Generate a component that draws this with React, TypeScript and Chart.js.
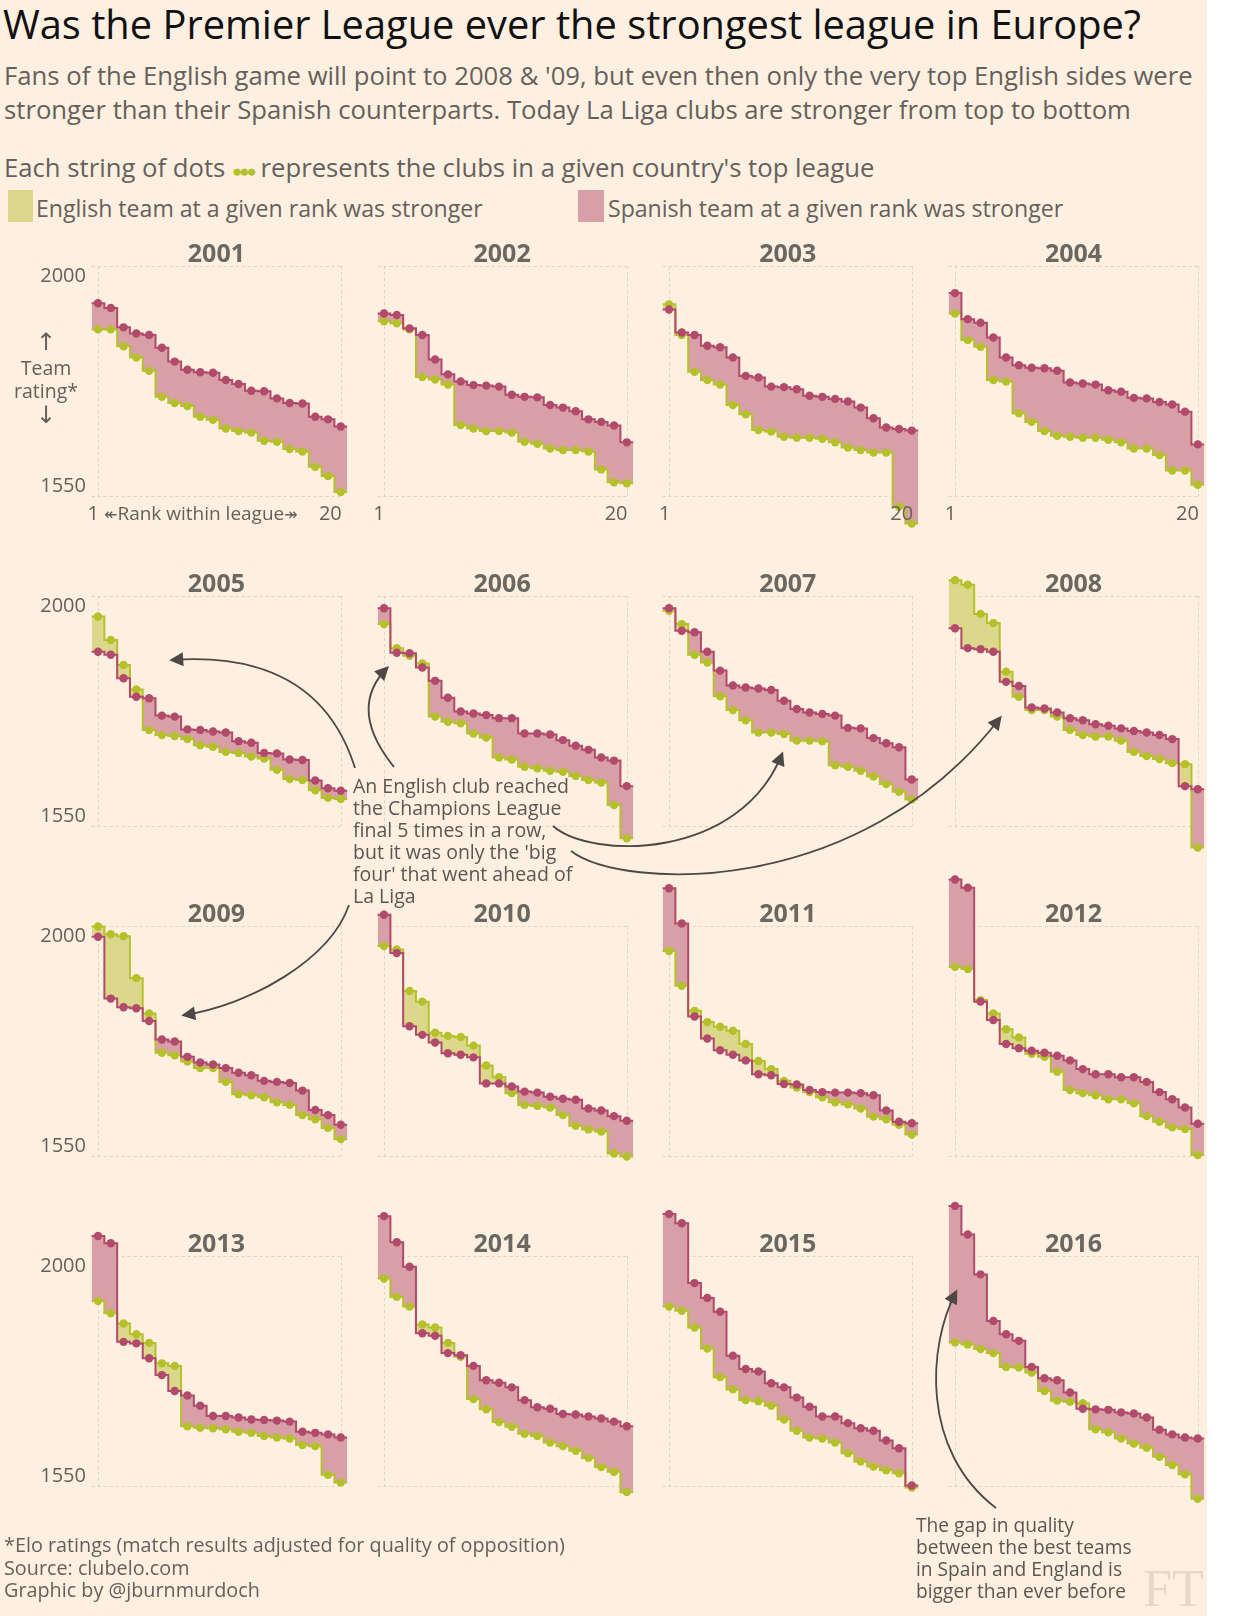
import React, { useEffect, useRef } from 'react';
import { Chart, registerables } from 'chart.js';
Chart.register(...registerables);

// ---------------- DATA (Elo ratings by rank, 1..20) ----------------
const RANKS = [1, 2, 3, 4, 5, 6, 7, 8, 9, 10, 11, 12, 13, 14, 15, 16, 17, 18, 19, 20];
const YEARS = [2001, 2002, 2003, 2004, 2005, 2006, 2007, 2008, 2009, 2010, 2011, 2012, 2013, 2014, 2015, 2016];
const Y_TICKS = [2000, 1550];

const spain2001 = [1927, 1918, 1880, 1868, 1865, 1840, 1813, 1797, 1792, 1791, 1777, 1769, 1756, 1755, 1741, 1732, 1731, 1705, 1700, 1686];
const england2001 = [1876, 1876, 1843, 1821, 1795, 1744, 1732, 1726, 1705, 1699, 1682, 1677, 1674, 1658, 1656, 1642, 1637, 1607, 1589, 1558];
const spain2002 = [1907, 1904, 1878, 1865, 1817, 1788, 1774, 1767, 1766, 1764, 1748, 1744, 1743, 1728, 1723, 1716, 1700, 1695, 1688, 1655];
const england2002 = [1892, 1888, 1876, 1783, 1778, 1768, 1689, 1682, 1677, 1677, 1674, 1656, 1652, 1643, 1640, 1640, 1637, 1602, 1577, 1575];
const spain2003 = [1915, 1870, 1865, 1844, 1841, 1821, 1785, 1782, 1764, 1763, 1759, 1746, 1744, 1740, 1735, 1723, 1702, 1684, 1681, 1678];
const england2003 = [1925, 1865, 1793, 1777, 1768, 1728, 1710, 1679, 1676, 1666, 1664, 1664, 1662, 1655, 1645, 1640, 1635, 1635, 1529, 1496];
const spain2004 = [1947, 1896, 1889, 1860, 1821, 1806, 1801, 1800, 1795, 1772, 1770, 1768, 1757, 1754, 1742, 1741, 1734, 1729, 1715, 1651];
const england2004 = [1907, 1855, 1842, 1777, 1774, 1712, 1695, 1677, 1668, 1666, 1664, 1664, 1660, 1655, 1643, 1643, 1630, 1600, 1600, 1572];
const spain2005 = [1891, 1885, 1839, 1803, 1800, 1766, 1764, 1739, 1738, 1735, 1733, 1716, 1713, 1693, 1692, 1680, 1679, 1639, 1624, 1619];
const england2005 = [1960, 1914, 1865, 1817, 1738, 1728, 1726, 1720, 1708, 1705, 1695, 1693, 1686, 1682, 1660, 1642, 1640, 1620, 1605, 1603];
const spain2006 = [1976, 1889, 1888, 1860, 1834, 1801, 1774, 1770, 1767, 1761, 1761, 1731, 1731, 1729, 1718, 1707, 1699, 1684, 1678, 1628];
const england2006 = [1945, 1898, 1883, 1868, 1764, 1754, 1751, 1731, 1723, 1684, 1680, 1666, 1663, 1658, 1656, 1648, 1640, 1635, 1591, 1526];
const spain2007 = [1976, 1932, 1929, 1891, 1854, 1825, 1821, 1819, 1816, 1795, 1779, 1772, 1769, 1766, 1742, 1741, 1722, 1712, 1704, 1641];
const england2007 = [1971, 1945, 1885, 1870, 1804, 1777, 1757, 1733, 1733, 1730, 1717, 1717, 1716, 1669, 1666, 1658, 1647, 1632, 1617, 1602];
const spain2008 = [1937, 1898, 1896, 1891, 1832, 1824, 1782, 1780, 1772, 1761, 1757, 1749, 1746, 1741, 1736, 1733, 1728, 1720, 1628, 1622];
const england2008 = [2031, 2022, 1965, 1947, 1852, 1803, 1777, 1777, 1764, 1738, 1728, 1725, 1725, 1717, 1695, 1687, 1681, 1673, 1671, 1508];
const spain2009 = [1979, 1858, 1841, 1839, 1814, 1778, 1774, 1744, 1733, 1729, 1722, 1713, 1708, 1697, 1695, 1693, 1678, 1640, 1630, 1611];
const england2009 = [1999, 1984, 1980, 1898, 1829, 1752, 1747, 1735, 1722, 1722, 1695, 1671, 1669, 1665, 1655, 1650, 1630, 1622, 1605, 1583];
const spain2010 = [2022, 1947, 1804, 1787, 1772, 1751, 1748, 1743, 1692, 1692, 1686, 1676, 1674, 1666, 1662, 1660, 1643, 1639, 1628, 1619];
const england2010 = [1961, 1954, 1873, 1852, 1791, 1785, 1783, 1766, 1727, 1704, 1673, 1650, 1648, 1645, 1630, 1609, 1602, 1598, 1555, 1549];
const spain2011 = [2074, 2005, 1823, 1780, 1757, 1748, 1737, 1710, 1708, 1691, 1690, 1679, 1675, 1674, 1674, 1673, 1669, 1639, 1617, 1614];
const england2011 = [1951, 1883, 1834, 1812, 1803, 1795, 1769, 1736, 1720, 1697, 1684, 1675, 1665, 1655, 1651, 1643, 1627, 1622, 1611, 1592];
const spain2012 = [2091, 2075, 1852, 1816, 1769, 1761, 1756, 1752, 1746, 1737, 1720, 1710, 1710, 1704, 1704, 1695, 1675, 1661, 1645, 1613];
const england2012 = [1920, 1916, 1855, 1829, 1798, 1782, 1750, 1744, 1715, 1679, 1673, 1669, 1661, 1661, 1653, 1628, 1617, 1606, 1603, 1552];
const spain2013 = [2039, 2025, 1832, 1829, 1800, 1767, 1736, 1727, 1707, 1687, 1687, 1684, 1680, 1679, 1678, 1676, 1656, 1654, 1651, 1645];
const england2013 = [1912, 1888, 1868, 1847, 1830, 1790, 1785, 1667, 1664, 1663, 1661, 1656, 1654, 1648, 1645, 1643, 1630, 1628, 1572, 1557];
const spain2014 = [2078, 2027, 1979, 1849, 1844, 1810, 1806, 1785, 1757, 1752, 1743, 1718, 1704, 1701, 1691, 1690, 1686, 1682, 1676, 1667];
const england2014 = [1956, 1920, 1901, 1866, 1860, 1830, 1803, 1720, 1700, 1675, 1666, 1652, 1648, 1635, 1628, 1619, 1605, 1587, 1578, 1538];
const spain2015 = [2082, 2064, 1947, 1918, 1891, 1805, 1779, 1774, 1751, 1743, 1723, 1705, 1686, 1686, 1673, 1663, 1658, 1639, 1624, 1551];
const england2015 = [1901, 1893, 1860, 1819, 1763, 1739, 1718, 1716, 1707, 1680, 1658, 1645, 1643, 1635, 1614, 1598, 1588, 1581, 1575, 1547];
const spain2016 = [2098, 2042, 1964, 1873, 1847, 1834, 1783, 1761, 1757, 1733, 1701, 1700, 1699, 1694, 1692, 1684, 1660, 1651, 1645, 1643];
const england2016 = [1831, 1827, 1818, 1810, 1783, 1782, 1772, 1736, 1717, 1715, 1712, 1661, 1655, 1643, 1633, 1625, 1607, 1591, 1573, 1525];

const SPAIN = [spain2001, spain2002, spain2003, spain2004, spain2005, spain2006, spain2007, spain2008,
  spain2009, spain2010, spain2011, spain2012, spain2013, spain2014, spain2015, spain2016];
const ENGLAND = [england2001, england2002, england2003, england2004, england2005, england2006, england2007, england2008,
  england2009, england2010, england2011, england2012, england2013, england2014, england2015, england2016];

// ---------------- STYLE / LAYOUT ----------------
const BG = '#fdf0e1';
const RED = '#b14a6b';
const GREEN = '#b5c12b';
const PINK_FILL = '#d8a0a6';
const GREEN_FILL = '#dcd88b';
const GRID = '#ddd2c6';
const TEXT = '#66605c';
const FONT = '"Open Sans", Roboto, sans-serif';

const COL_X0 = 98;       // pixel of rank 1 in column 0
const COL_STEP = 285.7;
const RANK_SPAN = 242.8; // rank 1 -> rank 20
const ROW_Y0 = 266;      // pixel of 2000 in row 0
const ROW_STEP = 330;
const BOX_H = 230;       // 2000 -> 1550
const PAD_L = 30, CW = 305, PAD_T = 72, CH = 380;

const rankPx = RANK_SPAN / 19;
const eloPx = BOX_H / (Y_TICKS[0] - Y_TICKS[1]);

const boxPlugin = {
  id: 'ratingBox',
  beforeDatasetsDraw(chart: any) {
    const { ctx, scales } = chart;
    const x = scales.x, y = scales.y;
    const xl = x.getPixelForValue(RANKS[0] - 0.5);
    const x1 = x.getPixelForValue(RANKS[0]);
    const x20 = x.getPixelForValue(RANKS[RANKS.length - 1]);
    const yt = y.getPixelForValue(Y_TICKS[0]);
    const yb = y.getPixelForValue(Y_TICKS[1]);
    ctx.save();
    ctx.strokeStyle = GRID;
    ctx.lineWidth = 1;
    ctx.setLineDash([3, 3]);
    ctx.beginPath();
    ctx.moveTo(xl, Math.round(yt) + 0.5); ctx.lineTo(x20, Math.round(yt) + 0.5);
    ctx.moveTo(xl, Math.round(yb) + 0.5); ctx.lineTo(x20, Math.round(yb) + 0.5);
    ctx.moveTo(Math.round(x1) + 0.5, yt); ctx.lineTo(Math.round(x1) + 0.5, yb);
    ctx.moveTo(Math.round(x20) + 0.5, yt); ctx.lineTo(Math.round(x20) + 0.5, yb);
    ctx.stroke();
    ctx.restore();
  },
};

function Panel({ idx }: { idx: number }) {
  const ref = useRef<HTMLCanvasElement>(null);
  const col = idx % 4, row = Math.floor(idx / 4);
  const left = COL_X0 + col * COL_STEP - PAD_L;
  const top = ROW_Y0 + row * ROW_STEP - PAD_T;
  useEffect(() => {
    const sp = SPAIN[idx], en = ENGLAND[idx];
    const xs = [RANKS[0] - 0.5, ...RANKS, RANKS[RANKS.length - 1] + 0.5];
    const ext = (v: number[]) => [v[0], ...v, v[v.length - 1]];
    const spE = ext(sp), enE = ext(en);
    const radii = xs.map((_, i) => (i === 0 || i === xs.length - 1 ? 0 : 4.2));
    const xmin = RANKS[0] - PAD_L / rankPx;
    const xmax = xmin + CW / rankPx;
    const ymax = Y_TICKS[0] + PAD_T / eloPx;
    const ymin = ymax - CH / eloPx;
    const chart = new Chart(ref.current!, {
      type: 'line',
      data: {
        datasets: [
          {
            label: 'Spain',
            data: xs.map((x, i) => ({ x, y: spE[i] })),
            borderColor: RED,
            backgroundColor: RED,
            pointBackgroundColor: RED,
            pointBorderWidth: 0,
            pointRadius: radii,
            borderWidth: 2,
            stepped: 'middle',
            fill: false,
          },
          {
            label: 'England',
            data: xs.map((x, i) => ({ x, y: enE[i] })),
            borderColor: GREEN,
            backgroundColor: GREEN,
            pointBackgroundColor: GREEN,
            pointBorderWidth: 0,
            pointRadius: radii,
            borderWidth: 2,
            stepped: 'middle',
            fill: { target: 0, above: GREEN_FILL, below: PINK_FILL },
          },
        ],
      },
      options: {
        animation: false,
        responsive: false,
        events: [],
        layout: { padding: 0 },
        scales: {
          x: { type: 'linear', min: xmin, max: xmax, display: false },
          y: { type: 'linear', min: ymin, max: ymax, display: false },
        },
        plugins: { legend: { display: false }, tooltip: { enabled: false } },
      } as any,
      plugins: [boxPlugin],
    });
    return () => chart.destroy();
  }, [idx]);
  return (
    <canvas ref={ref} width={CW} height={CH}
      style={{ position: 'absolute', left, top, width: CW, height: CH }} />
  );
}

function T({ x, y, size, children, color = TEXT, weight = 400, align = 'left', family = FONT, width }: any) {
  const lh = Math.round(size * 1.3);
  const style: any = {
    position: 'absolute', top: y - lh / 2, fontSize: size, lineHeight: lh + 'px', color,
    fontWeight: weight, fontFamily: family, whiteSpace: 'nowrap',
  };
  if (align === 'left') style.left = x;
  else if (align === 'right') { style.right = 1259 - x; }
  else { style.left = x - (width || 200) / 2; style.width = width || 200; style.textAlign = 'center'; }
  return <div style={style}>{children}</div>;
}

export default function App() {
  useEffect(() => { document.body.style.margin = '0'; }, []);
  const panels = YEARS.map((_, i) => i);
  const ARROW_FONT = '"DejaVu Sans", sans-serif';
  return (
    <div style={{ position: 'absolute', left: 0, top: 0, width: 1259, height: 1616, background: '#ffffff', overflow: 'hidden' }}>
      <div style={{ position: 'absolute', left: 0, top: 0, width: 1207, height: 1616, background: BG }} />
      <T x={3} y={24} size={39.8} color="#111">Was the Premier League ever the strongest league in Europe?</T>
      <T x={4} y={75} size={25.7}>Fans of the English game will point to 2008 &amp; '09, but even then only the very top English sides were</T>
      <T x={4} y={109} size={25.7}>stronger than their Spanish counterparts. Today La Liga clubs are stronger from top to bottom</T>
      <T x={4} y={167} size={25.7}>Each string of dots <span style={{ color: GREEN, fontSize: 17, letterSpacing: -3 }}>●●●</span> represents the clubs in a given country's top league</T>
      <div style={{ position: 'absolute', left: 8, top: 190, width: 25, height: 32, background: GREEN_FILL }} />
      <T x={36} y={208} size={23.1}>English team at a given rank was stronger</T>
      <div style={{ position: 'absolute', left: 578, top: 190, width: 26, height: 32, background: PINK_FILL }} />
      <T x={608} y={208} size={23.1}>Spanish team at a given rank was stronger</T>

      {panels.map((i) => <Panel key={i} idx={i} />)}

      {panels.map((i) => {
        const col = i % 4, row = Math.floor(i / 4);
        const x1 = COL_X0 + col * COL_STEP;
        const boxTop = ROW_Y0 + row * ROW_STEP;
        return (
          <React.Fragment key={'t' + i}>
            <T x={x1 + RANK_SPAN / 2 - 3} y={boxTop - 14} size={25} weight={700} color="#6b6761" align="center" width={120}>{YEARS[i]}</T>
            {col === 0 && <T x={86} y={boxTop + 9} size={20} align="right">{Y_TICKS[0]}</T>}
            {col === 0 && <T x={86} y={boxTop + BOX_H - 11} size={20} align="right">{Y_TICKS[1]}</T>}
            {row === 0 && <T x={x1 + 1} y={boxTop + BOX_H + 17} size={20} align="right">{RANKS[0]}</T>}
            {row === 0 && <T x={x1 + RANK_SPAN + 1} y={boxTop + BOX_H + 17} size={20} align="right">{RANKS[RANKS.length - 1]}</T>}
          </React.Fragment>
        );
      })}
      <T x={104} y={513} size={19}><span style={{ fontFamily: ARROW_FONT, fontSize: 16 }}>↞</span>Rank within league<span style={{ fontFamily: ARROW_FONT, fontSize: 16 }}>↠</span></T>
      <T x={46} y={342} size={24} align="center" width={80} family={ARROW_FONT}>↑</T>
      <T x={46} y={367} size={19.5} align="center" width={80}>Team</T>
      <T x={46} y={390} size={19.5} align="center" width={80}>rating*</T>
      <T x={46} y={415} size={24} align="center" width={80} family={ARROW_FONT}>↓</T>

      {['An English club reached', 'the Champions League', 'final 5 times in a row,', "but it was only the 'big", "four' that went ahead of", 'La Liga'].map((s, k) => (
        <T key={'a' + k} x={353} y={785 + k * 22} size={19.5} color="#5b5652">{s}</T>
      ))}
      {['The gap in quality', 'between the best teams', 'in Spain and England is', 'bigger than ever before'].map((s, k) => (
        <T key={'b' + k} x={916} y={1524 + k * 22.3} size={19.2} color="#5b5652">{s}</T>
      ))}
      {['*Elo ratings (match results adjusted for quality of opposition)', 'Source: clubelo.com', 'Graphic by @jburnmurdoch'].map((s, k) => (
        <T key={'f' + k} x={4} y={1545 + k * 22.5} size={19.8}>{s}</T>
      ))}
      <T x={1143} y={1589} size={52} color="#e6d8c9" family='"Liberation Serif", "DejaVu Serif", serif'>FT</T>

      <svg width={1259} height={1616} style={{ position: 'absolute', left: 0, top: 0, pointerEvents: 'none' }}>
        <defs>
          <marker id="ah2" viewBox="0 0 10 10" refX="8" refY="5" markerWidth="16" markerHeight="14" orient="auto" markerUnits="userSpaceOnUse">
            <path d="M0,0 L10,5 L0,10 Z" fill="#4d4845" />
          </marker>
        </defs>
        <g fill="none" stroke="#4d4845" strokeWidth={1.8}>
          <path d="M355,768 Q318,650 172,660" markerEnd="url(#ah2)" />
          <path d="M394,767 Q347,709 387,668" markerEnd="url(#ah2)" />
          <path d="M553,826 C592,860 740,860 782,754" markerEnd="url(#ah2)" />
          <path d="M571,851 C622,890 860,900 1000,718" markerEnd="url(#ah2)" />
          <path d="M349,905 C330,960 250,1005 184,1015" markerEnd="url(#ah2)" />
          <path d="M996,1508 C920,1450 928,1345 956,1292" markerEnd="url(#ah2)" />
        </g>
      </svg>
    </div>
  );
}
